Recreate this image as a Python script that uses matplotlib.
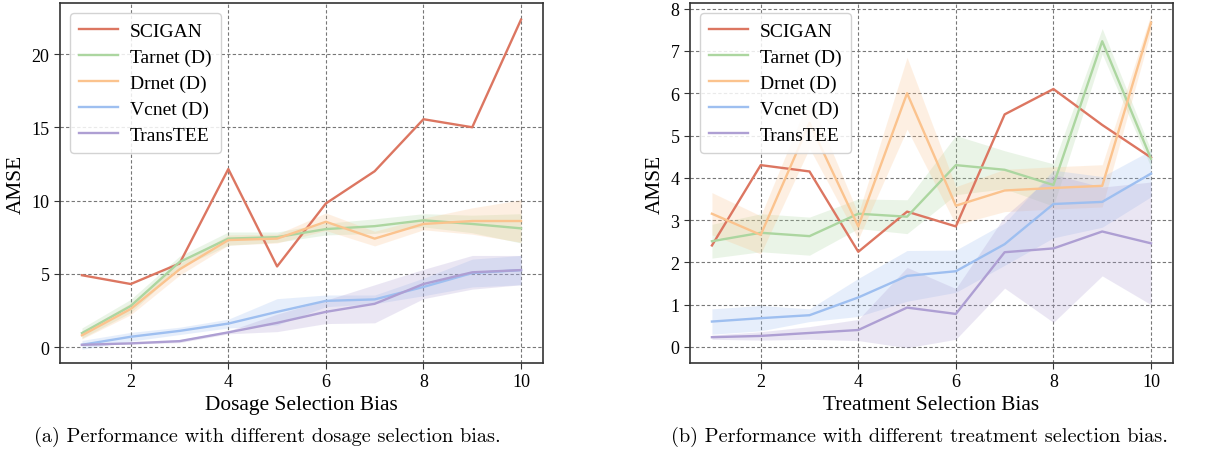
import numpy as np
import matplotlib
matplotlib.use('Agg')
import matplotlib.pyplot as plt

# bias levels on the x axis
bias = [1, 2, 3, 4, 5, 6, 7, 8, 9, 10]
methods = ['SCIGAN', 'Tarnet (D)', 'Drnet (D)', 'Vcnet (D)', 'TransTEE']
colors = ['#dc7661', '#acd6a0', '#fbc38e', '#9ebff0', '#ae9fd3']

# (a) dosage selection bias: mean AMSE and band half-width
dosage_mean = {
    'SCIGAN':     [4.9, 4.3, 5.7, 12.15, 5.5, 9.8, 12.0, 15.55, 15.0, 22.35],
    'Tarnet (D)': [0.95, 2.8, 5.8, 7.4, 7.5, 8.05, 8.25, 8.65, 8.4, 8.1],
    'Drnet (D)':  [0.8, 2.6, 5.3, 7.3, 7.4, 8.55, 7.4, 8.4, 8.6, 8.6],
    'Vcnet (D)':  [0.15, 0.7, 1.1, 1.6, 2.4, 3.15, 3.25, 4.1, 5.05, 5.25],
    'TransTEE':   [0.15, 0.25, 0.4, 1.0, 1.65, 2.4, 2.95, 4.3, 5.1, 5.25],
}
dosage_std = {
    'SCIGAN':     [0, 0, 0, 0, 0, 0, 0, 0, 0, 0],
    'Tarnet (D)': [0.35, 0.45, 0.4, 0.45, 0.35, 0.4, 0.5, 0.45, 0.6, 1.0],
    'Drnet (D)':  [0.25, 0.4, 0.4, 0.35, 0.3, 0.6, 0.5, 0.4, 0.9, 1.45],
    'Vcnet (D)':  [0.3, 0.3, 0.25, 0.3, 0.9, 0.4, 0.3, 0.6, 0.95, 1.0],
    'TransTEE':   [0.05, 0.05, 0.1, 0.1, 0.6, 0.8, 1.3, 1.0, 1.15, 1.0],
}

# (b) treatment selection bias
treat_mean = {
    'SCIGAN':     [2.4, 4.3, 4.15, 2.25, 3.2, 2.85, 5.5, 6.1, 5.25, 4.48],
    'Tarnet (D)': [2.5, 2.7, 2.62, 3.15, 3.08, 4.3, 4.19, 3.83, 7.23, 4.45],
    'Drnet (D)':  [3.15, 2.65, 5.3, 2.85, 6.0, 3.34, 3.7, 3.76, 3.81, 7.67],
    'Vcnet (D)':  [0.6, 0.68, 0.75, 1.17, 1.68, 1.79, 2.43, 3.38, 3.43, 4.1],
    'TransTEE':   [0.23, 0.26, 0.33, 0.4, 0.93, 0.78, 2.24, 2.33, 2.73, 2.45],
}
treat_std = {
    'SCIGAN':     [0, 0, 0, 0, 0, 0, 0, 0, 0, 0],
    'Tarnet (D)': [0.4, 0.45, 0.45, 0.35, 0.4, 0.7, 0.45, 0.5, 0.3, 0.2],
    'Drnet (D)':  [0.5, 0.45, 0.6, 0.3, 0.85, 0.45, 0.5, 0.5, 0.5, 0.2],
    'Vcnet (D)':  [0.3, 0.3, 0.15, 0.45, 0.6, 0.5, 0.5, 0.8, 0.6, 0.55],
    'TransTEE':   [0.05, 0.1, 0.15, 0.25, 0.95, 0.6, 0.85, 1.75, 1.05, 1.45],
}

plt.rcParams['font.family'] = ['Liberation Serif', 'DejaVu Serif']

fig = plt.figure(figsize=(12.05, 4.56), dpi=100)
ax_a = fig.add_axes([0.0498, 0.2018, 0.4008, 0.789])
ax_b = fig.add_axes([0.5726, 0.2018, 0.4008, 0.789])


def draw(ax, means, stds, xlabel, ylim, yticks):
    for name, c in zip(methods, colors):
        m = np.array(means[name])
        s = np.array(stds[name])
        ax.plot(bias, m, color=c, lw=1.7, label=name)
        if s.any():
            ax.fill_between(bias, m - s, m + s, color=c, alpha=0.25, lw=0)
    ax.set_xlim(0.55, 10.45)
    ax.set_ylim(*ylim)
    ax.set_xticks([2, 4, 6, 8, 10])
    ax.set_yticks(yticks)
    ax.grid(True, color='#777777', lw=0.8, dashes=(3, 2))
    ax.set_axisbelow(True)
    for sp in ax.spines.values():
        sp.set_color('#333333')
        sp.set_linewidth(1.2)
    ax.tick_params(labelsize=13, length=4, color='#333333')
    ax.set_xlabel(xlabel, fontsize=15.4, labelpad=3)
    ax.set_ylabel('AMSE', fontsize=15.4, labelpad=4)
    ax.legend(loc='upper left', fontsize=14, handlelength=2.0,
              handletextpad=0.6, borderpad=0.5, labelspacing=0.42, framealpha=0.85)


draw(ax_a, dosage_mean, dosage_std, 'Dosage Selection Bias', (-1.09, 23.47), [0, 5, 10, 15, 20])
draw(ax_b, treat_mean, treat_std, 'Treatment Selection Bias', (-0.38, 8.13), range(0, 9))

fig.text(0.222, 0.041, '(a) Performance with different dosage selection bias.',
         ha='center', va='center', fontsize=14.6, family='cmr10')
fig.text(0.763, 0.041, '(b) Performance with different treatment selection bias.',
         ha='center', va='center', fontsize=14.6, family='cmr10')

fig.savefig('out.png', dpi=100)
